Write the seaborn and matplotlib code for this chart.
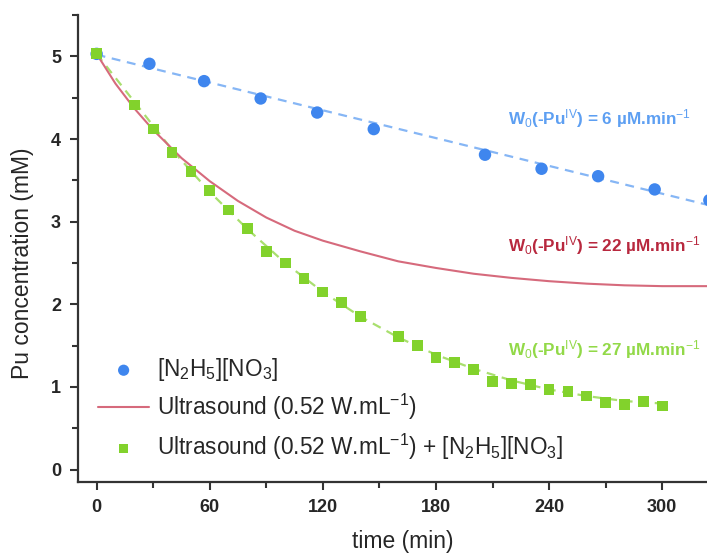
import numpy as np
import pandas as pd
import matplotlib
matplotlib.use('Agg')
import matplotlib.pyplot as plt
import seaborn as sns
from matplotlib.ticker import MultipleLocator

# ── Data ────────────────────────────────────────────────────────────────────
blue_t = [0, 28, 57, 87, 117, 147, 206, 236, 266, 296, 325]
blue_c = [5.03, 4.91, 4.70, 4.49, 4.32, 4.12, 3.81, 3.64, 3.55, 3.39, 3.26]
blue_fit_t = [0, 330]
blue_fit_c = [5.02, 3.17]

red_t = [0, 10, 20, 30, 45, 60, 75, 90, 105, 120, 140, 160, 180, 200, 220, 240, 260, 280, 300, 330]
red_c = [5.03, 4.67, 4.37, 4.11, 3.77, 3.49, 3.25, 3.05, 2.89, 2.77, 2.64, 2.52, 2.44, 2.37,
         2.32, 2.28, 2.25, 2.23, 2.22, 2.22]

green_t = [0, 20, 30, 40, 50, 60, 70, 80, 90, 100, 110, 120, 130, 140, 160, 170, 180, 190,
           200, 210, 220, 230, 240, 250, 260, 270, 280, 290, 300]
green_c = [5.03, 4.41, 4.12, 3.84, 3.61, 3.38, 3.14, 2.92, 2.64, 2.50, 2.31, 2.15, 2.02, 1.85,
           1.61, 1.50, 1.36, 1.30, 1.21, 1.07, 1.04, 1.03, 0.97, 0.95, 0.89, 0.81, 0.79, 0.82, 0.77]
green_fit_t = [0, 20, 40, 60, 80, 100, 120, 140, 160, 180, 200, 220, 240, 260, 280, 300]
green_fit_c = [5.03, 4.45, 3.87, 3.36, 2.91, 2.50, 2.15, 1.85, 1.60, 1.39, 1.22, 1.08, 0.97,
               0.89, 0.83, 0.80]

labels = [r'[N$_2$H$_5$][NO$_3$]',
          r'Ultrasound (0.52 W.mL$^{-1}$)',
          r'Ultrasound (0.52 W.mL$^{-1}$) + [N$_2$H$_5$][NO$_3$]']
rates = [r'W$_0$(-Pu$^{IV}$) = 6 µM.min$^{-1}$',
         r'W$_0$(-Pu$^{IV}$) = 22 µM.min$^{-1}$',
         r'W$_0$(-Pu$^{IV}$) = 27 µM.min$^{-1}$']

# ── Style ───────────────────────────────────────────────────────────────────
BLUE, BLUE_L = '#3f86ee', '#86b6f5'
RED = '#d66a7c'
GREEN, GREEN_L = '#82d22c', '#a9df6e'

sns.set_theme(style='ticks')
plt.rcParams['font.family'] = ['Liberation Sans', 'DejaVu Sans']
plt.rcParams['mathtext.fontset'] = 'custom'
plt.rcParams['mathtext.rm'] = 'Liberation Sans'
plt.rcParams['mathtext.it'] = 'Liberation Sans'

fig = plt.figure(figsize=(7.07, 5.56), dpi=100)
ax = fig.add_axes([0.110, 0.133, 0.92, 0.840])

# fits
sns.lineplot(x=blue_fit_t, y=blue_fit_c, ax=ax, color=BLUE_L, linestyle=(0, (4, 3)), lw=1.6,
             label='_nolegend_')
sns.lineplot(x=green_fit_t, y=green_fit_c, ax=ax, color=GREEN_L, linestyle=(0, (4, 3)), lw=1.6,
             label='_nolegend_')

# data
sns.scatterplot(x=blue_t, y=blue_c, ax=ax, color=BLUE, marker='o', s=80, edgecolor='none',
                label=labels[0], zorder=3)
sns.lineplot(x=red_t, y=red_c, ax=ax, color=RED, lw=1.5, label=labels[1])
sns.scatterplot(x=green_t, y=green_c, ax=ax, color=GREEN, marker='s', s=60, edgecolor='none',
                label=labels[2], zorder=3)

ax.set_xlim(-10, 335)
ax.set_ylim(-0.15, 5.5)
ax.xaxis.set_major_locator(MultipleLocator(60))
ax.xaxis.set_minor_locator(MultipleLocator(30))
ax.yaxis.set_major_locator(MultipleLocator(1))
ax.yaxis.set_minor_locator(MultipleLocator(0.5))
ax.set_xticks([0, 60, 120, 180, 240, 300])
ax.tick_params(which='major', length=6, width=1.5, color='#333333', labelsize=13, pad=6)
ax.tick_params(which='minor', length=4, width=1.5, color='#333333')
for lab in ax.get_xticklabels() + ax.get_yticklabels():
    lab.set_fontweight('bold')
for sp in ['left', 'bottom']:
    ax.spines[sp].set_linewidth(1.6)
    ax.spines[sp].set_color('#333333')
sns.despine(ax=ax)

ax.set_xlabel('time (min)', fontsize=16.5, labelpad=10)
ax.set_ylabel('Pu concentration (mM)', fontsize=16.5)
ax.yaxis.set_label_coords(-0.068, 0.469)

# rate annotations
ax.text(218, 4.25, rates[0], color='#5d9ff2', fontsize=12.3, fontweight='semibold',
        ha='left', va='center')
ax.text(218, 2.71, rates[1], color='#b8283e', fontsize=12.3, fontweight='bold',
        ha='left', va='center')
ax.text(218, 1.45, rates[2], color='#92d948', fontsize=12.3, fontweight='semibold',
        ha='left', va='center')

handles, labs = ax.get_legend_handles_labels()
ax.legend(handles, labs, loc='lower left', bbox_to_anchor=(0.0, 0.0), frameon=False,
          fontsize=16.3, handlelength=2.25, handletextpad=0.35, labelspacing=0.4,
          markerscale=0.9)

fig.savefig('out.png', dpi=100)
